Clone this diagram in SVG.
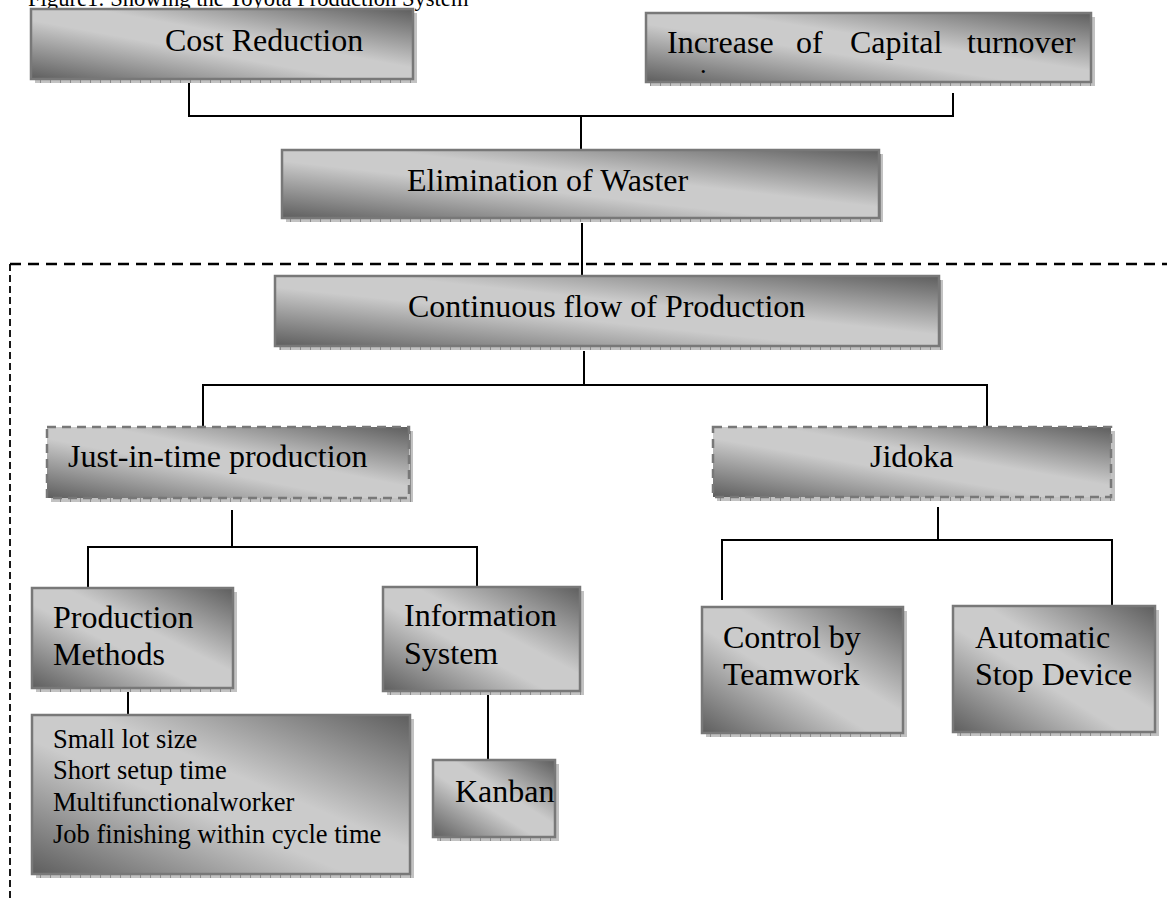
<svg xmlns="http://www.w3.org/2000/svg" width="1167" height="900" viewBox="0 0 1167 900">
<defs>
<linearGradient id="g" x1="0" y1="1" x2="1" y2="0">
<stop offset="0" stop-color="#5e5e5e"/>
<stop offset="0.42" stop-color="#cbcbcb"/>
<stop offset="0.58" stop-color="#cbcbcb"/>
<stop offset="1" stop-color="#5e5e5e"/>
</linearGradient>
<pattern id="sh" width="10" height="10" patternUnits="userSpaceOnUse">
<rect width="10" height="10" fill="#c2c2c2"/>
<rect width="1" height="10" fill="#8c8c8c"/>
</pattern>
</defs>
<style>
.b{fill:url(#g);stroke:#787878;stroke-width:2.5}
.bd{fill:url(#g);stroke:#787878;stroke-width:2.5;stroke-dasharray:9 6}
.s{fill:url(#sh)}
.t{font-family:"Liberation Serif","Times New Roman",serif;font-size:32px;fill:#000}
.ts{font-family:"Liberation Serif","Times New Roman",serif;font-size:26.5px;fill:#000}
.c{fill:none;stroke:#000;stroke-width:2}
</style>
<rect width="1167" height="900" fill="#fff"/>
<text class="ts" x="28" y="6" style="font-size:22.6px">Figure1: Showing the Toyota Production System</text>
<g id="frame">
<path d="M10 264 H1167" fill="none" stroke="#000" stroke-width="2.5" stroke-dasharray="11 7"/>
<path d="M10 264 V900" fill="none" stroke="#000" stroke-width="1.8" stroke-dasharray="7 4"/>
</g>
<g id="connectors">
<path class="c" d="M189 83 V116 H953 V93"/>
<path class="c" d="M581 116 V150"/>
<path class="c" d="M582 223 V278"/>
<path class="c" d="M584 351 V385 H203 V427 M584 385 H987 V427"/>
<path class="c" d="M232 510 V547 H88 V588 M232 547 H477 V587"/>
<path class="c" d="M938 507 V540 H722 V600 M938 540 H1112 V606"/>
<path class="c" d="M128 692 V715"/>
<path class="c" d="M488 695 V760"/>
</g>
<g id="cost">
<rect class="s" x="35" y="13" width="382" height="70"/>
<rect class="b" x="31" y="9" width="382" height="70"/>
<text class="t" x="165" y="51">Cost Reduction</text>
</g>
<g id="capital">
<rect class="s" x="650" y="17" width="445" height="69"/>
<rect class="b" x="646" y="13" width="445" height="69"/>
<text class="t" x="667" y="53">Increase</text>
<text class="t" x="796" y="53">of</text>
<text class="t" x="850" y="53">Capital</text>
<text class="t" x="967" y="53">turnover</text>
<text class="t" x="700" y="73" style="font-size:26px">.</text>
</g>
<g id="waste">
<rect class="s" x="286" y="154" width="597" height="68"/>
<rect class="b" x="282" y="150" width="597" height="68"/>
<text class="t" x="407" y="191">Elimination of Waster</text>
</g>
<g id="flow">
<rect class="s" x="279" y="280" width="664" height="70"/>
<rect class="b" x="275" y="276" width="664" height="70"/>
<text class="t" x="408" y="317">Continuous flow of Production</text>
</g>
<g id="jit">
<rect class="s" x="51" y="431" width="362" height="71"/>
<rect class="bd" x="47" y="427" width="362" height="71"/>
<text class="t" x="68" y="467">Just-in-time production</text>
</g>
<g id="jidoka">
<rect class="s" x="717" y="431" width="398" height="70"/>
<rect class="bd" x="713" y="427" width="398" height="70"/>
<text class="t" x="870" y="467">Jidoka</text>
</g>
<g id="methods">
<rect class="s" x="36" y="592" width="201" height="100"/>
<rect class="b" x="32" y="588" width="201" height="100"/>
<text class="t" x="53" y="628">Production</text>
<text class="t" x="53" y="665">Methods</text>
</g>
<g id="info">
<rect class="s" x="387" y="591" width="197" height="104"/>
<rect class="b" x="383" y="587" width="197" height="104"/>
<text class="t" x="404" y="626">Information</text>
<text class="t" x="404" y="664">System</text>
</g>
<g id="list">
<rect class="s" x="36" y="719" width="378" height="159"/>
<rect class="b" x="32" y="715" width="378" height="159"/>
<text class="ts" x="53" y="748">Small lot size</text>
<text class="ts" x="53" y="779">Short setup time</text>
<text class="ts" x="53" y="811">Multifunctionalworker</text>
<text class="ts" x="53" y="843">Job finishing within cycle time</text>
</g>
<g id="kanban">
<rect class="s" x="437" y="764" width="122" height="77"/>
<rect class="b" x="433" y="760" width="122" height="77"/>
<text class="t" x="455" y="802">Kanban</text>
</g>
<g id="teamwork">
<rect class="s" x="706" y="611" width="201" height="126"/>
<rect class="b" x="702" y="607" width="201" height="126"/>
<text class="t" x="723" y="648">Control by</text>
<text class="t" x="723" y="685">Teamwork</text>
</g>
<g id="stop">
<rect class="s" x="957" y="610" width="202" height="126"/>
<rect class="b" x="953" y="606" width="202" height="126"/>
<text class="t" x="975" y="648">Automatic</text>
<text class="t" x="975" y="685">Stop Device</text>
</g>
</svg>
